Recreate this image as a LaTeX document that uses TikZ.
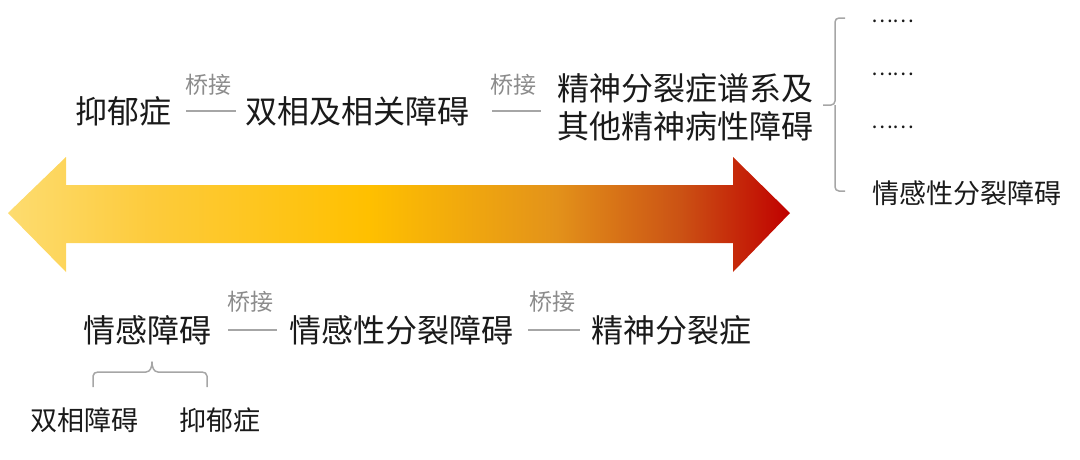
\documentclass[tikz,border=0pt]{standalone}
\usepackage{fontspec}
\newfontfamily\cjk{Noto Sans CJK SC}
\definecolor{txt}{HTML}{1A1A1A}
\definecolor{linkgray}{HTML}{A6A6A6}
\definecolor{labgray}{HTML}{8C8C8C}
\definecolor{gA}{HTML}{FDDC70}
\definecolor{gB}{HTML}{FDCB3C}
\definecolor{gC}{HTML}{FFC000}
\definecolor{gD}{HTML}{E3921A}
\definecolor{gE}{HTML}{CB5214}
\definecolor{gF}{HTML}{C00000}
\pgfdeclarehorizontalshading{arrowgrad}{100bp}{color(0bp)=(gA); color(25bp)=(gA); color(34bp)=(gB); color(48bp)=(gC); color(60bp)=(gD); color(68bp)=(gE); color(75bp)=(gF); color(100bp)=(gF)}
\tikzset{
  big/.style={inner sep=0pt, anchor=west, text=txt, font=\cjk\fontsize{32}{38}\selectfont},
  mid/.style={inner sep=0pt, anchor=west, text=txt, font=\cjk\fontsize{27}{32}\selectfont},
  dots/.style={inner sep=0pt, anchor=west, text=txt, font=\cjk\fontsize{20.5}{24}\selectfont},
  link/.style={draw=linkgray, line width=1.2pt},
  linklabel/.style={inner sep=0pt, text=labgray, font=\cjk\fontsize{23}{26}\selectfont},
  brace/.style={draw=linkgray, line width=1.5pt, rounded corners=4pt}
}
\begin{document}
\begin{tikzpicture}[x=1pt,y=1pt]
\useasboundingbox (0,0) rectangle (1080,-459);
% gradient double arrow
\path[shading=arrowgrad] (8,-213) -- (66,-157) -- (66,-185) -- (733,-185) -- (733,-157) -- (790,-213) -- (733,-272) -- (733,-243) -- (66,-243) -- (66,-272) -- cycle;
% top row
\node[big] (t1) at (75,-111) {抑郁症};
\node[big] (t2) at (245,-111) {双相及相关障碍};
\node[big, align=left] (t3) at (557,-107) {精神分裂症谱系及\\其他精神病性障碍};
\draw[link, shorten <=15pt, shorten >=9pt] (t1.east) -- (t2.west)
  node[linklabel, midway, yshift=26pt] {桥接};
\draw[link, shorten <=23pt, shorten >=16pt] (t2.east) -- (t2.east -| t3.west)
  node[linklabel, midway, yshift=26pt] {桥接};
% right bracket
\draw[brace] (845,-18) -- (835,-18) -- (835,-105) -- (823,-105);
\draw[brace] (845,-191) -- (835,-191) -- (835,-105);
\node[dots] (d1) at (871,-21) {……};
\node[dots] (d2) at (871,-74) {……};
\node[dots] (d3) at (871,-127) {……};
\node[mid] (r4) at (872,-193) {情感性分裂障碍};
% bottom row
\node[big] (b1) at (83,-330) {情感障碍};
\node[big] (b2) at (289,-330) {情感性分裂障碍};
\node[big] (b3) at (591,-330) {精神分裂症};
\draw[link, shorten <=17pt, shorten >=12pt] (b1.east) -- (b2.west)
  node[linklabel, midway, yshift=28pt] {桥接};
\draw[link, shorten <=15pt, shorten >=11pt] (b2.east) -- (b3.west)
  node[linklabel, midway, yshift=28pt] {桥接};
% bottom brace
\draw[draw=linkgray, line width=1.5pt, line join=round] (93,-387) -- (93,-376) to[out=90,in=180] (98,-372) -- (146,-372) to[out=0,in=-90] (152,-362) to[out=-90,in=180] (158,-372) -- (202,-372) to[out=0,in=90] (207,-376) -- (207,-387);
\node[mid] (s1) at (30,-420) {双相障碍};
\node[mid] (s2) at (179,-420) {抑郁症};
\end{tikzpicture}
\end{document}
